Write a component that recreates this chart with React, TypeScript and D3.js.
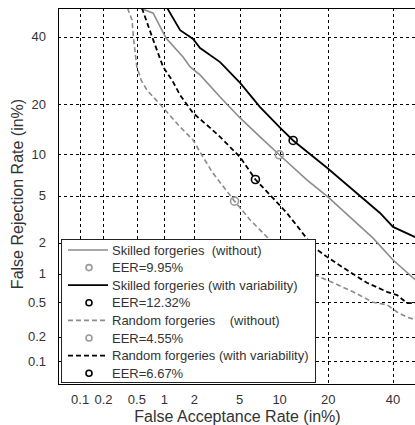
import React from "react";
import * as d3 from "d3";

// DET curves, values are [FAR %, FRR %]
const skilledWithout = [
  [0.54, 50], [0.76, 48.2], [1.04, 39.6], [1.55, 33.4], [1.82, 30.3], [2.26, 27.9],
  [3.43, 21.8], [5.05, 16.8], [7.23, 12.96], [9.95, 9.95], [15.1, 6.6], [20, 4.9],
  [26.9, 3.18], [33.2, 2.2], [40, 1.37], [47.9, 0.87],
];
const skilledWith = [
  [1.07, 50], [1.45, 42.3], [1.94, 39.3], [2.26, 36.3], [3.43, 31.8], [5.05, 25.6],
  [7.23, 19.3], [10.1, 14.7], [12.32, 12.32], [19.7, 8.1], [26.9, 5.56], [35.5, 3.64],
  [40, 2.77], [47.9, 2.25],
];
const randomWithout = [
  [0.39, 50], [0.44, 45.8], [0.46, 39], [0.5, 30.3], [0.56, 26.4], [0.65, 23.6],
  [0.82, 21], [1.02, 18.6], [1.45, 14.9], [1.94, 12.4], [2.41, 9.6], [2.97, 7.4],
  [4.55, 4.55], [6.07, 3.18], [8.15, 2.25], [16.9, 0.97], [21.3, 0.81], [26.9, 0.65],
  [33.2, 0.5], [37.9, 0.47], [41.4, 0.39], [45, 0.34], [47.9, 0.32],
];
const randomWith = [
  [0.57, 50], [0.76, 39], [0.97, 30.3], [1.2, 26.4], [1.45, 22.3], [1.94, 17.9],
  [2.8, 14.7], [3.43, 12.96], [5.05, 9.6], [6.67, 6.67], [8.85, 4.9], [11.2, 3.64],
  [13.7, 2.6], [16.4, 1.83], [19.7, 1.47], [25.1, 1.09], [31.2, 0.81], [37.9, 0.65],
  [41.4, 0.6], [45, 0.49], [47.9, 0.49],
];

const tickValues = [0.1, 0.2, 0.5, 1, 2, 5, 10, 20, 40];
const tickLabels = ["0.1", "0.2", "0.5", "1", "2", "5", "10", "20", "40"];
const domainPct = [0.05, 50];

const series = [
  { name: "Skilled forgeries  (without)", eer: 9.95, data: skilledWithout, color: "#8c8c8c", marker: "#999", dash: null, w: 1.6 },
  { name: "Skilled forgeries (with variability)", eer: 12.32, data: skilledWith, color: "#000", marker: "#000", dash: null, w: 1.8 },
  { name: "Random forgeries    (without)", eer: 4.55, data: randomWithout, color: "#8c8c8c", marker: "#999", dash: "5,3", w: 1.6 },
  { name: "Random forgeries (with variability)", eer: 6.67, data: randomWith, color: "#000", marker: "#000", dash: "5,3", w: 1.8 },
];

// inverse normal CDF (Acklam)
function probit(p: number): number {
  const a = [-39.69683028665376, 220.9460984245205, -275.9285104469687, 138.357751867269, -30.66479806614716, 2.506628277459239];
  const b = [-54.47609879822406, 161.5858368580409, -155.6989798598866, 66.80131188771972, -13.28068155692980];
  const c = [-0.007784894002430293, -0.3223964580411365, -2.400758277161838, -2.549732539343734, 4.374664141464968, 2.938163982698783];
  const d = [0.007784695709041462, 0.3224671290700398, 2.445134137142996, 3.754408661907416];
  const plow = 0.02425;
  if (p < plow) {
    const q = Math.sqrt(-2 * Math.log(p));
    return (((((c[0] * q + c[1]) * q + c[2]) * q + c[3]) * q + c[4]) * q + c[5]) / ((((d[0] * q + d[1]) * q + d[2]) * q + d[3]) * q + 1);
  }
  if (p <= 1 - plow) {
    const q = p - 0.5, r = q * q;
    return (((((a[0] * r + a[1]) * r + a[2]) * r + a[3]) * r + a[4]) * r + a[5]) * q / (((((b[0] * r + b[1]) * r + b[2]) * r + b[3]) * r + b[4]) * r + 1);
  }
  const q = Math.sqrt(-2 * Math.log(1 - p));
  return -(((((c[0] * q + c[1]) * q + c[2]) * q + c[3]) * q + c[4]) * q + c[5]) / ((((d[0] * q + d[1]) * q + d[2]) * q + d[3]) * q + 1);
}

const W = 415, H = 425;
const plot = { left: 58, top: 8, right: 421, bottom: 384 };

export default function App() {
  const xs = d3.scaleLinear().domain(domainPct.map(v => probit(v / 100))).range([plot.left, plot.right]);
  const ys = d3.scaleLinear().domain(domainPct.map(v => probit(v / 100))).range([plot.bottom, plot.top]);
  const x = (v: number) => xs(probit(v / 100));
  const y = (v: number) => ys(probit(v / 100));
  const line = d3.line<number[]>().x(d => x(d[0])).y(d => y(d[1]));

  const font = "'Liberation Sans', Arial, sans-serif";
  const txt = "#333";
  const lg = { x: 61, y: 239, w: 254, h: 143 };
  const rowH = 17.6;

  return (
    <svg width={W} height={H} style={{ position: "absolute", left: 0, top: 0, background: "#fff" }} fontFamily={font}>
      <defs>
        <clipPath id="plotclip">
          <rect x={plot.left} y={plot.top} width={plot.right - plot.left} height={plot.bottom - plot.top} />
        </clipPath>
      </defs>
      <rect x={0} y={0} width={W} height={H} fill="#fff" />

      {/* grid */}
      <g stroke="#000" strokeWidth={1} strokeDasharray="3,3" shapeRendering="crispEdges">
        {tickValues.map(t => (
          <line key={"gx" + t} x1={Math.round(x(t)) + 0.5} x2={Math.round(x(t)) + 0.5} y1={plot.top} y2={plot.bottom} />
        ))}
        {tickValues.map(t => (
          <line key={"gy" + t} y1={Math.round(y(t)) + 0.5} y2={Math.round(y(t)) + 0.5} x1={plot.left} x2={plot.right} />
        ))}
      </g>

      {/* curves */}
      <g clipPath="url(#plotclip)" fill="none">
        {series.map(s => (
          <path key={s.name} d={line(s.data) || ""} stroke={s.color} strokeWidth={s.w}
            strokeDasharray={s.dash || undefined} />
        ))}
        {series.map(s => (
          <circle key={"m" + s.name} cx={x(s.eer)} cy={y(s.eer)} r={4} stroke={s.marker} strokeWidth={1.6} fill="none" />
        ))}
      </g>

      {/* frame */}
      <g stroke="#000" strokeWidth={1} fill="none" shapeRendering="crispEdges">
        <line x1={plot.left + 0.5} x2={plot.left + 0.5} y1={plot.top} y2={plot.bottom} />
        <line x1={plot.left} x2={plot.right} y1={plot.top + 0.5} y2={plot.top + 0.5} />
        <line x1={plot.left} x2={plot.right} y1={plot.bottom + 0.5} y2={plot.bottom + 0.5} />
      </g>

      {/* tick labels */}
      <g fontSize={13} fill={txt}>
        {tickValues.map((t, i) => (
          <text key={"tx" + t} x={x(t)} y={404} textAnchor="middle">{tickLabels[i]}</text>
        ))}
        {tickValues.map((t, i) => (
          <text key={"ty" + t} x={46} y={y(t)} textAnchor="end" dominantBaseline="central">{tickLabels[i]}</text>
        ))}
      </g>

      <text x={(plot.left + 421) / 2 - 2} y={422} textAnchor="middle" fontSize={16} fill={txt}>False Acceptance Rate (in%)</text>
      <text transform={`translate(17,${(plot.top + plot.bottom) / 2 - 2}) rotate(-90)`} textAnchor="middle"
        dominantBaseline="central" fontSize={16} fill={txt}>False Rejection Rate (in%)</text>

      {/* legend */}
      <g>
        <rect x={lg.x + 0.5} y={lg.y + 0.5} width={lg.w} height={lg.h} fill="#fff" stroke="#222" strokeWidth={1} shapeRendering="crispEdges" />
        {series.map((s, i) => {
          const y1 = 250 + i * 2 * rowH;
          const y2 = y1 + rowH;
          return (
            <g key={"lg" + s.name}>
              <line x1={68} x2={108} y1={y1} y2={y1} stroke={s.color} strokeWidth={s.w} strokeDasharray={s.dash || undefined} />
              <text x={112} y={y1} fontSize={13} dominantBaseline="central" fill={txt} style={{ whiteSpace: "pre" }}>{s.name}</text>
              <circle cx={89} cy={y2} r={3} stroke={s.marker} strokeWidth={1.6} fill="none" />
              <text x={112} y={y2} fontSize={13} dominantBaseline="central" fill={txt}>{`EER=${s.eer}%`}</text>
            </g>
          );
        })}
      </g>
    </svg>
  );
}
